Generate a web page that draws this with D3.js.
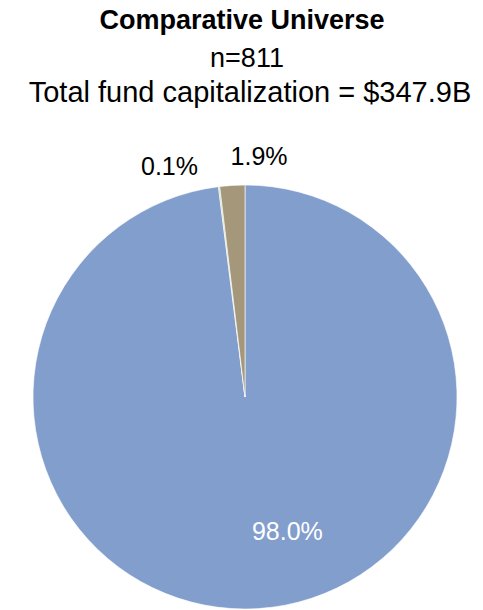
<!DOCTYPE html>
<html>
<head>
<meta charset="utf-8">
<script src="https://cdn.jsdelivr.net/npm/d3@7"></script>
<style>
  html, body { margin: 0; padding: 0; background: #fff; }
  svg { display: block; font-family: "Liberation Sans", Arial, sans-serif; }
</style>
</head>
<body>
<svg id="chart" width="483" height="610"></svg>
<script>
// Share of total fund capitalization by segment
const categories = ["Segment A", "Segment B", "Segment C"];
const shares = [98.0, 0.1, 1.9];
const sliceColors = ["#829ecc", "#c4d79b", "#a5977a"];
const titleLines = ["Comparative Universe", "n=811", "Total fund capitalization = $347.9B"];

const svg = d3.select("#chart");
const cx = 245, cy = 397, radius = 212;

// Title block
const titleSpec = [
  { x: 242, y: 29, size: 27, weight: "bold" },
  { x: 247, y: 67, size: 27, weight: "normal" },
  { x: 250, y: 102, size: 29, weight: "normal" }
];
svg.selectAll("text.title")
  .data(titleLines)
  .join("text")
  .attr("class", "title")
  .attr("x", (d, i) => titleSpec[i].x)
  .attr("y", (d, i) => titleSpec[i].y)
  .attr("text-anchor", "middle")
  .attr("font-size", (d, i) => titleSpec[i].size)
  .attr("font-weight", (d, i) => titleSpec[i].weight)
  .attr("fill", "#000")
  .text(d => d);

const data = categories.map((c, i) => ({ name: c, value: shares[i], color: sliceColors[i] }));

const pie = d3.pie().sort(null).value(d => d.value);
const arcs = pie(data);
const arc = d3.arc().innerRadius(0).outerRadius(radius);

const g = svg.append("g").attr("transform", `translate(${cx},${cy})`);

g.selectAll("path.slice")
  .data(arcs)
  .join("path")
  .attr("class", "slice")
  .attr("d", arc)
  .attr("fill", d => d.data.color)
  .attr("stroke", "#ffffff")
  .attr("stroke-width", 0.6);

// Value labels: inside for the large slice, outside for the small ones
const fmt = d3.format(".1f");
const labelRadius = [radius * 0.63, radius * 1.1, radius * 1.1];
const labelOffset = [[34, 10], [-47, 9], [28, 1]];

g.selectAll("text.value")
  .data(arcs)
  .join("text")
  .attr("class", "value")
  .attr("x", (d, i) => d3.arc().innerRadius(labelRadius[i]).outerRadius(labelRadius[i]).centroid(d)[0] + labelOffset[i][0])
  .attr("y", (d, i) => d3.arc().innerRadius(labelRadius[i]).outerRadius(labelRadius[i]).centroid(d)[1] + labelOffset[i][1])
  .attr("text-anchor", "middle")
  .attr("font-size", 25)
  .attr("fill", (d, i) => i === 0 ? "#ffffff" : "#000000")
  .text(d => fmt(d.data.value) + "%");
</script>
</body>
</html>
